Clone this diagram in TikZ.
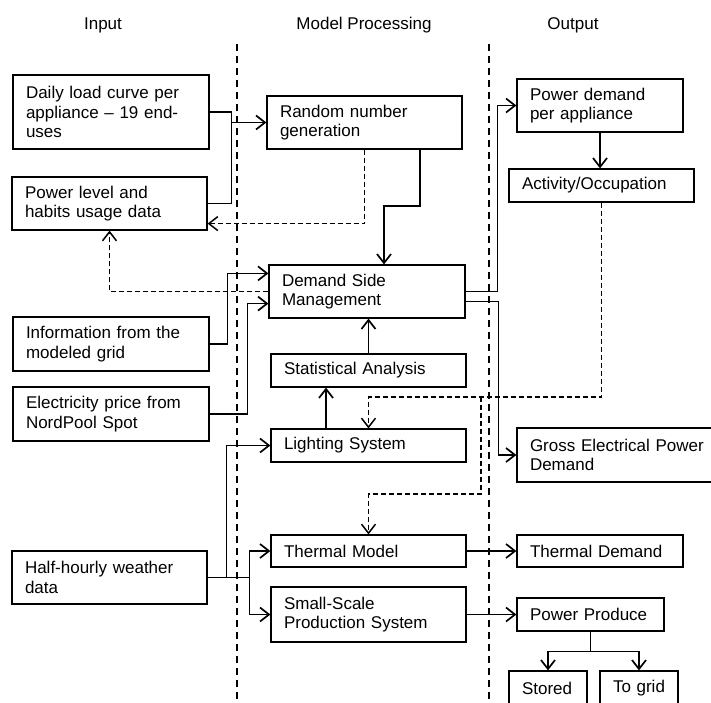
\documentclass[tikz,border=0pt]{standalone}
\usepackage{fontspec}
\setmainfont{Liberation Sans}
\usetikzlibrary{arrows.meta}
\newcommand{\diagfont}{\fontsize{17}{19.5}\selectfont}
\tikzset{
  box/.style={draw, line width=1.2pt, inner xsep=13pt, inner ysep=0pt, align=left, font=\diagfont},
  hdr/.style={font=\diagfont, inner sep=0pt},
  sep/.style={line width=1.3pt, dash pattern=on 7pt off 5pt},
  conn/.style={line width=1.7pt, arrows={-Straight Barb[length=9pt,width=14pt]}},
  plainconn/.style={line width=1.7pt},
  dconn/.style={line width=1.5pt, dash pattern=on 5pt off 3pt, arrows={-Straight Barb[length=9pt,width=14pt]}},
}
\begin{document}
\begin{tikzpicture}[x=1pt,y=-1pt]
\useasboundingbox (0,0) rectangle (711,702);
\clip (0,0) rectangle (711,702);
\fill[white] (0,0) rectangle (711,702);

% headers
\node[hdr] (hin) at (103,25) {Input};
\node[hdr] (hmp) at (364,25) {Model Processing};
\node[hdr] (hout) at (573,25) {Output};

% separators
\coordinate (s1t) at (237,44);
\coordinate (s1b) at (237,702);
\coordinate (s2t) at (489,44);
\coordinate (s2b) at (489,702);
\draw[sep] (s1t) -- (s1b);
\draw[sep] (s2t) -- (s2b);

% input boxes
\node[box, minimum width=196pt, text width=170pt, minimum height=74pt] (daily) at (111,112) {Daily load curve per\\appliance -- 19 end-\\uses};
\node[box, minimum width=195pt, text width=169pt, minimum height=53pt] (power) at (109.5,203.5) {Power level and\\habits usage data};
\node[box, minimum width=196pt, text width=170pt, minimum height=54pt] (info) at (111,344) {Information from the\\modeled grid};
\node[box, minimum width=196pt, text width=170pt, minimum height=54pt] (price) at (111,414) {Electricity price from\\NordPool Spot};
\node[box, minimum width=195pt, text width=169pt, minimum height=53pt] (half) at (109.5,577.5) {Half-hourly weather\\data};

% model processing boxes
\node[box, minimum width=195pt, text width=169pt, minimum height=53pt] (random) at (364.5,122.5) {Random number\\generation};
\node[box, minimum width=196pt, text width=170pt, minimum height=53pt] (dsm) at (367,291.5) {Demand Side\\Management};
\node[box, minimum width=195pt, text width=169pt, minimum height=33pt] (stat) at (368.5,370.5) {Statistical Analysis};
\node[box, minimum width=195pt, text width=169pt, minimum height=33pt] (light) at (368.5,445.5) {Lighting System};
\node[box, minimum width=195pt, text width=169pt, minimum height=32pt] (thermal) at (368.5,551) {Thermal Model};
\node[box, minimum width=195pt, text width=169pt, minimum height=55pt] (small) at (368.5,614.5) {Small-Scale\\Production System};

% output boxes
\node[box, minimum width=166pt, text width=140pt, minimum height=53pt] (pd) at (600,105.5) {Power demand\\per appliance};
\node[box, minimum width=185pt, text width=159pt, minimum height=33pt] (activity) at (601.5,185.5) {Activity/Occupation};
\node[box, minimum width=210pt, text width=184pt, minimum height=54pt] (gross) at (622,455) {Gross Electrical Power\\Demand};
\node[box, minimum width=166pt, text width=140pt, minimum height=32pt] (tdemand) at (600,551) {Thermal Demand};
\node[box, minimum width=147pt, text width=121pt, minimum height=33pt] (produce) at (590.5,614.5) {Power Produce};
\node[box, minimum width=78pt, text width=52pt, minimum height=34pt] (stored) at (548,688) {Stored};
\node[box, minimum width=78pt, text width=52pt, minimum height=34pt] (togrid) at (639,688) {To grid};

% connectors: inputs to random number generation
\draw[plainconn] (daily.east) -- ++(22,0) coordinate (j1) |- (power.east);
\draw[conn] (j1 |- random.west) -- (random.west);

% random -> power level (dashed)
\draw[dconn] (random.south) |- ([yshift=7pt]power.south east);

% random -> DSM
\draw[conn] (random.south -| 420,0) -- (420,206) -- (384,206) -- (dsm.north -| 384,0);

% DSM -> power level (dashed)
\draw[dconn] (dsm.west) -| (power.south);

% info, price -> DSM
\draw[conn] (info.east) -- ++(18,0) |- ([yshift=-9pt]dsm.north west);
\draw[conn] (price.east) -- ++(38,0) |- ([yshift=15pt]dsm.south west);

% stat -> DSM, light -> stat
\draw[conn] (stat.north) -- (stat.north |- dsm.south);
\draw[conn] (light.north -| 326,0) -- (stat.south -| 326,0);

% activity -> lighting and thermal (dashed)
\draw[dconn] (activity.south) -- (activity.south |- 0,397) -- (light.north |- 0,397) -- (light.north);
\coordinate (split) at (481,397);
\draw[dconn] (split) -- (481,494) -| (thermal.north);

% DSM -> outputs
\draw[conn] (pd.south) -- (pd.south |- activity.north);
\draw[conn] (dsm.east) -- ++(32,0) |- (pd.west);
\draw[conn] ([yshift=-10pt]dsm.east) -- ++(33,0) |- (gross.west);

% weather -> light, thermal, small
\draw[conn] (half.east) -- ++(19,0) |- (light.west);
\draw[plainconn] (half.east) -- ++(42,0) coordinate (hj);
\draw[conn] (hj) |- (thermal.west);
\draw[conn] (hj) |- (small.west);

% model -> outputs
\draw[conn] (thermal.east) -- (tdemand.west);
\draw[conn] (small.east) -- (produce.west);

% power produce -> stored / to grid
\draw[plainconn] (produce.south) -- ++(0,20) coordinate (pj);
\draw[conn] (pj) -| (stored.north);
\draw[conn] (pj) -| (togrid.north);
\end{tikzpicture}
\end{document}
